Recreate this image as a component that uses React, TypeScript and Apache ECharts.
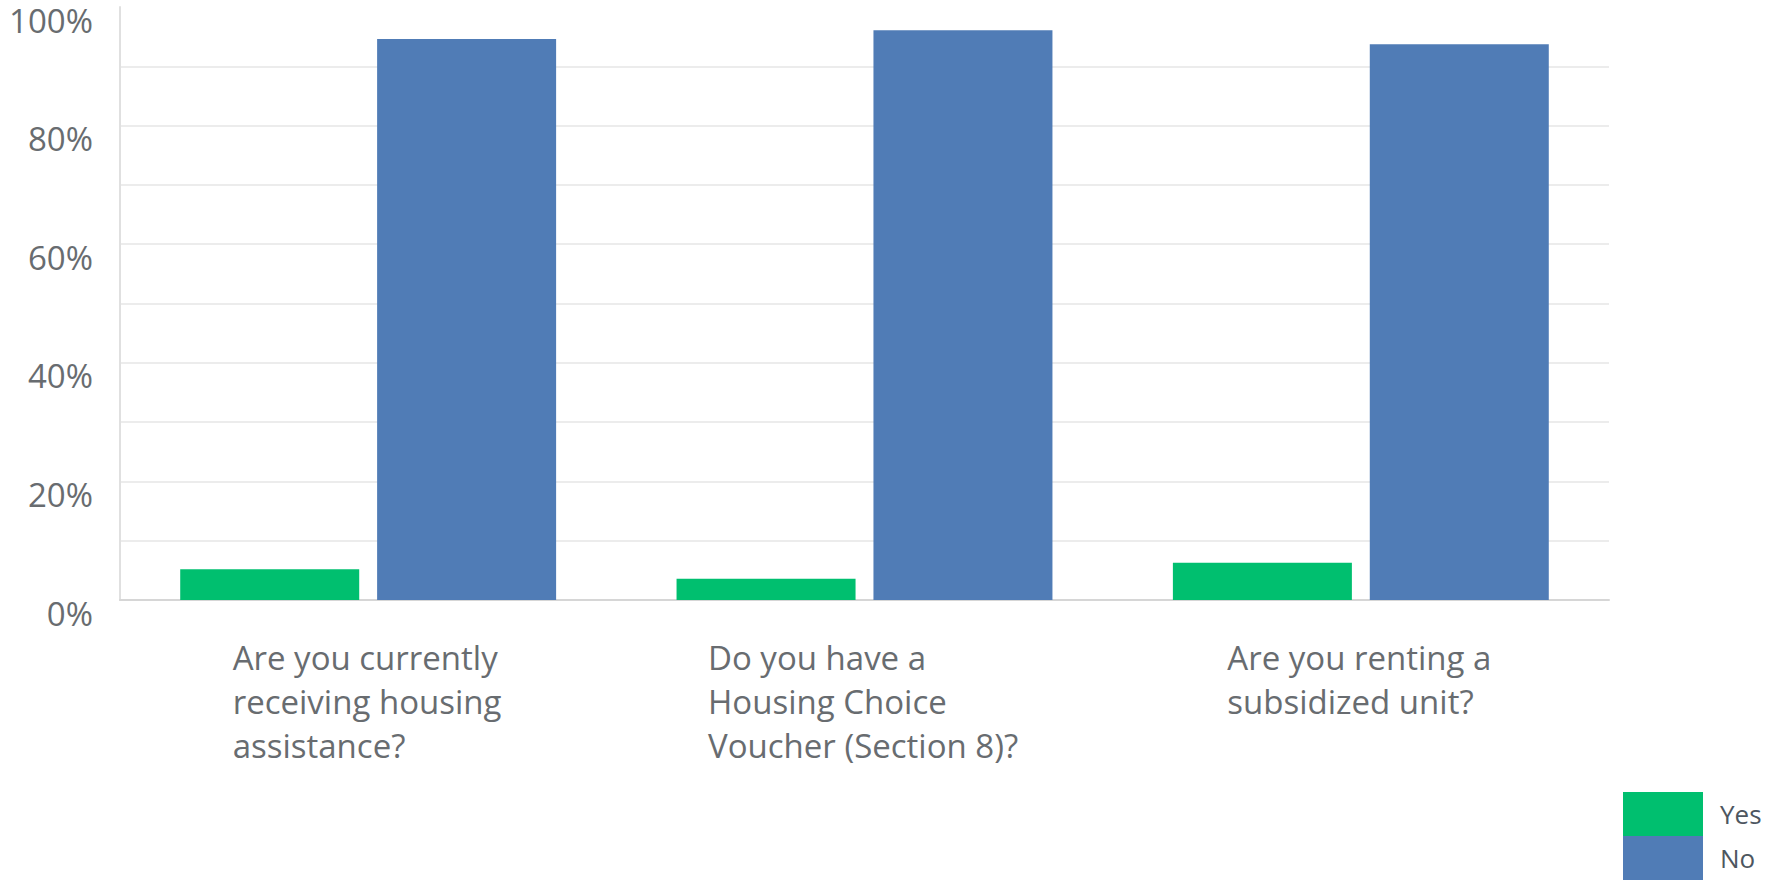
import React, { useEffect, useRef } from "react";
import * as echarts from "echarts";

const categories: string[][] = [
  ["Are you currently", "receiving housing", "assistance?"],
  ["Do you have a", "Housing Choice", "Voucher (Section 8)?"],
  ["Are you renting a", "subsidized unit?"],
];
const yesValues = [5.2, 3.6, 6.3];
const noValues = [94.6, 96.1, 93.7];
const seriesNames = ["Yes", "No"];
const yTicks = [0, 20, 40, 60, 80, 100];

const LABEL_FONT = "Open Sans";
const LABEL_SIZE = 33;
const LABEL_COLOR = "#686c70";

export default function App() {
  const ref = useRef<HTMLDivElement>(null);
  useEffect(() => {
    if (!ref.current) return;
    const chart = echarts.init(ref.current, null, { renderer: "svg" });
    const canvas = document.createElement("canvas");
    const ctx = canvas.getContext("2d")!;
    ctx.font = `${LABEL_SIZE}px "${LABEL_FONT}"`;
    const rich: Record<string, any> = {};
    categories.forEach((lines, i) => {
      const w = Math.max(...lines.map((l) => ctx.measureText(l).width));
      rich["c" + i] = {
        width: Math.ceil(w) + 2,
        align: "left",
        fontFamily: LABEL_FONT,
        fontSize: LABEL_SIZE,
        lineHeight: 44,
        color: LABEL_COLOR,
      };
    });
    const catKeys = categories.map((_, i) => String(i));
    chart.setOption({
      animation: false,
      grid: {
        left: 120,
        right: 160,
        top: 7,
        bottom: 282,
        containLabel: false,
        outerBoundsMode: "none",
      },
      legend: {
        orient: "vertical",
        left: 1623,
        top: 792,
        padding: 0,
        itemWidth: 80,
        itemHeight: 44,
        itemGap: 0,
        icon: "rect",
        data: seriesNames,
        textStyle: {
          fontFamily: "Open Sans",
          fontSize: 26,
          lineHeight: 44,
          color: "#4d5660",
          padding: [0, 0, 0, 12],
        },
      },
      xAxis: {
        type: "category",
        data: catKeys,
        axisTick: { show: false },
        axisLine: { lineStyle: { color: "#d6d6d6", width: 2 } },
        axisLabel: {
          margin: 35,
          interval: 0,
          formatter: (v: string) => {
            const i = Number(v);
            return categories[i].map((l) => `{c${i}|${l}}`).join("\n");
          },
          rich,
        },
      },
      yAxis: {
        type: "value",
        min: 0,
        max: 100,
        interval: 10,
        axisLine: { show: true, lineStyle: { color: "#e0e0e0", width: 2 } },
        axisTick: { show: false },
        splitLine: { show: true, showMaxLine: false, lineStyle: { color: "#ececec", width: 2 } },
        axisLabel: {
          margin: 27,
          fontFamily: LABEL_FONT,
          fontSize: LABEL_SIZE,
          color: LABEL_COLOR,
          verticalAlign: "top",
          lineHeight: 26,
          formatter: (v: number) => (yTicks.includes(v) ? `${v}%` : ""),
        },
      },
      series: [
        {
          name: seriesNames[0],
          type: "bar",
          data: yesValues,
          barWidth: 179,
          barGap: "10%",
          itemStyle: { color: "#00bf6f" },
        },
        {
          name: seriesNames[1],
          type: "bar",
          data: noValues,
          barWidth: 179,
          itemStyle: { color: "#507cb6" },
        },
      ],
    });
    return () => chart.dispose();
  }, []);
  return (
    <div
      ref={ref}
      style={{ position: "fixed", left: 0, top: 0, width: 1769, height: 882, background: "#fff" }}
    />
  );
}
